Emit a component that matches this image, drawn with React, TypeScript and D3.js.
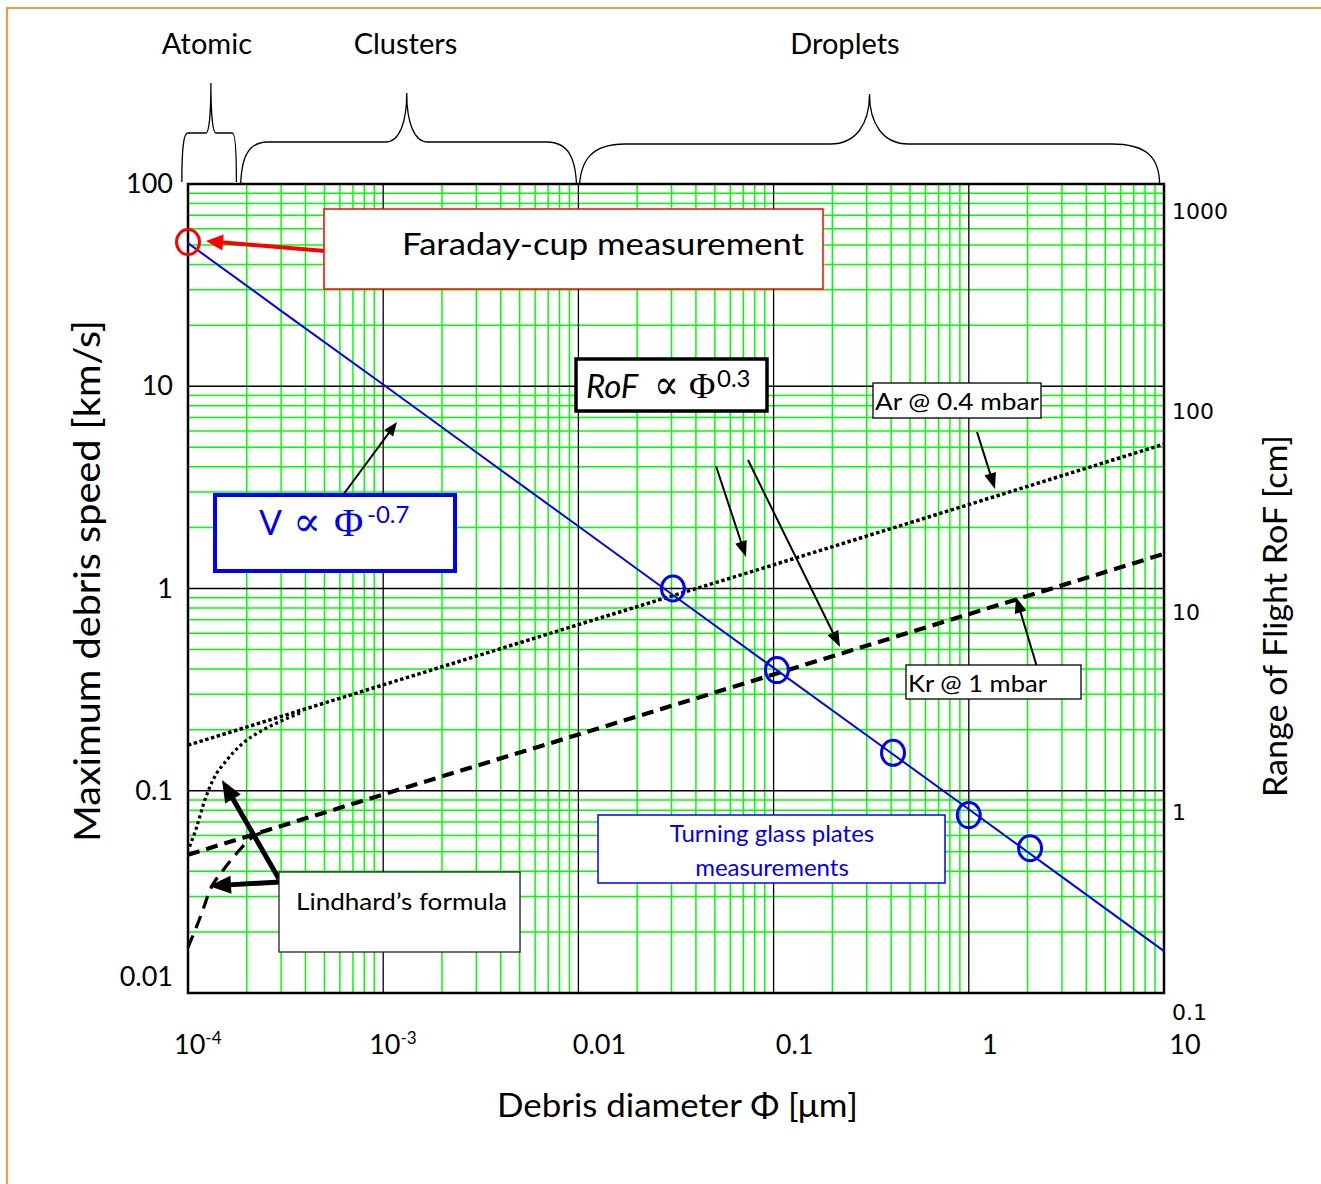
import React from 'react'
import * as d3 from 'd3'

// Debris speed / range-of-flight vs debris diameter (log-log, two y axes).
// Values.

// blue curve: max debris speed [km/s] vs diameter [µm]
const diam = [1e-4, 3e-4, 1e-3, 3e-3, 0.01, 0.03, 0.1, 0.3, 1, 3, 10]
const speed = [51, 23.6, 10.2, 4.72, 2.03, 0.94, 0.405, 0.188, 0.081, 0.0375, 0.0161]

// range of flight [cm] (right axis)
const rofDiam = [1e-4, 1e-3, 0.01, 0.1, 1, 10]
const rofAr = [2.15, 4.3, 8.6, 17.1, 34.2, 68.5]
const rofKr = [0.61, 1.22, 2.43, 4.85, 9.7, 19.4]

// Lindhard's formula near the smallest diameters
const lindArDiam = [1.02e-4, 1.108e-4, 1.222e-4, 1.343e-4, 1.579e-4, 1.913e-4, 2.42e-4, 2.96e-4, 3.88e-4]
const lindAr = [0.67, 0.84, 1.15, 1.44, 1.81, 2.2, 2.56, 2.82, 3.15]
const lindKrDiam = [1.0e-4, 1.175e-4, 1.296e-4, 1.517e-4, 1.776e-4, 2.153e-4, 2.53e-4]
const lindKr = [0.21, 0.311, 0.406, 0.512, 0.62, 0.75, 0.8]

// measurements
const faradayDiam = [1e-4]
const faradaySpeed = [51.6]
const glassDiam = [0.0305, 0.104, 0.409, 1.0, 2.06]
const glassSpeed = [1.0, 0.395, 0.154, 0.0758, 0.052]

// axes
const leftTicks = [100, 10, 1, 0.1, 0.01]
const leftLabels = ['100', '10', '1', '0.1', '0.01']
const rightTicks = [1000, 100, 10, 1, 0.1]
const rightLabels = ['1000', '100', '10', '1', '0.1']
const xTicks = [1e-4, 1e-3, 0.01, 0.1, 1, 10]
const xLabels = ['10', '10', '0.01', '0.1', '1', '10']
const xExps = ['-4', '-3', '', '', '', '']

// size regions above the plot (µm): from, apex, to
const regionNames = ['Atomic', 'Clusters', 'Droplets']
const regionFrom = [0.93e-4, 1.86e-4, 0.0101]
const regionApex = [1.31e-4, 1.32e-3, 0.31]
const regionTo = [1.77e-4, 0.0098, 9.5]
const regionLabelAt = [1.25e-4, 1.3e-3, 0.232]

const LATO = 'Lato, "Open Sans", sans-serif'
const SERIF = '"Liberation Serif", "DejaVu Serif", serif'

const isDecade = (t: number) => Math.abs(Math.log10(t) - Math.round(Math.log10(t))) < 1e-6

function Arrow({ x1, y1, x2, y2, w, hl, hw, color }: any) {
  const a = Math.atan2(y2 - y1, x2 - x1)
  const bx = x2 - hl * Math.cos(a)
  const by = y2 - hl * Math.sin(a)
  const px = (-Math.sin(a) * hw) / 2
  const py = (Math.cos(a) * hw) / 2
  return (
    <g>
      <line x1={x1} y1={y1} x2={bx + Math.cos(a) * 2} y2={by + Math.sin(a) * 2} stroke={color} strokeWidth={w} />
      <polygon points={`${x2},${y2} ${bx + px},${by + py} ${bx - px},${by - py}`} fill={color} />
    </g>
  )
}

// curly brace: ends at yB0/yB1, flat at yF, apex at yT
function bracePath(x0: number, xm: number, x1: number, yB0: number, yB1: number, yF: number, yT: number, r0: number, rm: number, r1: number) {
  return (
    `M${x0},${yB0} C${x0},${yF + (yB0 - yF) * 0.3} ${x0 + r0 * 0.3},${yF} ${x0 + r0},${yF} ` +
    `L${xm - rm},${yF} C${xm - rm * 0.35},${yF} ${xm},${yF - (yF - yT) * 0.4} ${xm},${yT} ` +
    `C${xm},${yF - (yF - yT) * 0.4} ${xm + rm * 0.35},${yF} ${xm + rm},${yF} ` +
    `L${x1 - r1},${yF} C${x1 - r1 * 0.3},${yF} ${x1},${yF + (yB1 - yF) * 0.3} ${x1},${yB1}`
  )
}

export default function App() {
  const W = 1321
  const H = 1184
  const left = 188
  const right = 1164
  const top = 184
  const bottom = 993

  const x = d3.scaleLog().domain([1e-4, 10]).range([left, right])
  const yL = d3.scaleLog().domain([0.01, 100]).range([bottom, top])
  const yR = d3.scaleLog().domain([0.1, 1000]).range([1012, 211])

  const xAll = x.ticks()
  const yAll = yL.ticks()
  const xMinor = xAll.filter((t) => !isDecade(t))
  const yMinor = yAll.filter((t) => !isDecade(t))
  const xMajor = xAll.filter((t) => isDecade(t) && t > 1e-4 && t < 10)
  const yMajor = yAll.filter((t) => isDecade(t) && t > 0.01 && t < 100)

  const lineL = (xs: number[], ys: number[], curve: any = d3.curveLinear) =>
    d3.line<number>().x((i) => x(xs[i])).y((i) => yL(ys[i])).curve(curve)(d3.range(xs.length)) || ''
  const lineR = (xs: number[], ys: number[], curve: any = d3.curveLinear) =>
    d3.line<number>().x((i) => x(xs[i])).y((i) => yR(ys[i])).curve(curve)(d3.range(xs.length)) || ''

  const braceTops = [83, 93, 94]
  const braceFlat = [133, 142, 144]
  const braceBottomL = [182, 190, 192]
  const braceBottomR = [182, 192, 185]
  const braceR0 = [6, 27, 46]
  const braceRm = [5, 21, 39]
  const braceR1 = [4, 30, 48]

  return (
    <svg width={W} height={H} style={{ position: 'absolute', left: 0, top: 0, background: '#fff' }}>
      <rect x={0} y={0} width={W} height={H} fill="#fff" />
      {/* slide frame */}
      <rect x={7} y={8} width={W + 20} height={H + 20} fill="none" stroke="#f79646" strokeWidth={2} />

      {/* region braces */}
      {regionNames.map((name, i) => (
        <g key={name}>
          <text x={x(regionLabelAt[i])} y={54} textAnchor="middle" fontFamily={LATO} fontSize={29}>
            {name}
          </text>
          <path
            d={bracePath(
              x(regionFrom[i]),
              x(regionApex[i]),
              x(regionTo[i]),
              braceBottomL[i],
              braceBottomR[i],
              braceFlat[i],
              braceTops[i],
              braceR0[i],
              braceRm[i],
              braceR1[i]
            )}
            fill="none"
            stroke="#000"
            strokeWidth={1.3}
          />
        </g>
      ))}

      {/* grid */}
      <rect x={left} y={top} width={right - left} height={bottom - top} fill="#fff" />
      {xMinor.map((t) => (
        <line key={'xm' + t} x1={x(t)} x2={x(t)} y1={top} y2={bottom} stroke="#00ff00" strokeWidth={1.5} />
      ))}
      {yMinor.map((t) => (
        <line key={'ym' + t} x1={left} x2={right} y1={yL(t)} y2={yL(t)} stroke="#00ff00" strokeWidth={1.5} />
      ))}
      {xMajor.map((t) => (
        <line key={'xM' + t} x1={x(t)} x2={x(t)} y1={top} y2={bottom} stroke="#000" strokeWidth={1.3} />
      ))}
      {yMajor.map((t) => (
        <line key={'yM' + t} x1={left} x2={right} y1={yL(t)} y2={yL(t)} stroke="#000" strokeWidth={1.3} />
      ))}
      <rect x={left} y={top} width={right - left} height={bottom - top} fill="none" stroke="#000" strokeWidth={2.5} />

      {/* left ticks */}
      {leftTicks.map((t, i) => (
        <text key={'l' + t} x={173} y={Math.min(yL(t), bottom - 16) + 9} textAnchor="end" fontFamily={LATO} fontSize={27}>
          {leftLabels[i]}
        </text>
      ))}
      {/* right ticks */}
      {rightTicks.map((t, i) => (
        <text key={'r' + t} x={1172} y={yR(t) + 8} fontFamily='"DejaVu Sans", Verdana, sans-serif' fontSize={22}>
          {rightLabels[i]}
        </text>
      ))}
      {/* x ticks */}
      {xTicks.map((t, i) =>
        xExps[i] ? (
          <text key={'x' + t} x={x(t) - 14} y={1054} fontFamily={LATO} fontSize={27}>
            {xLabels[i]}
            <tspan dy={-10} fontSize={17}>
              {xExps[i]}
            </tspan>
          </text>
        ) : (
          <text key={'x' + t} x={x(t) + 21} y={1054} textAnchor="middle" fontFamily={LATO} fontSize={27}>
            {xLabels[i]}
          </text>
        )
      )}

      {/* axis titles */}
      <text x={497} y={1117} fontFamily={LATO} fontSize={33} textLength={361} lengthAdjust="spacingAndGlyphs">
        Debris diameter Φ [μm]
      </text>
      <text transform="translate(100,842) rotate(-90)" fontFamily={LATO} fontSize={37} textLength={522} lengthAdjust="spacingAndGlyphs">
        Maximum debris speed [km/s]
      </text>
      <text transform="translate(1287,797) rotate(-90)" fontFamily={LATO} fontSize={32} textLength={362} lengthAdjust="spacingAndGlyphs">
        Range of Flight RoF [cm]
      </text>

      {/* range of flight curves */}
      <path d={lineR(rofDiam, rofAr)} fill="none" stroke="#000" strokeWidth={3.5} strokeDasharray="3.5,2.5" />
      <path d={lineR(lindArDiam, lindAr, d3.curveMonotoneX)} fill="none" stroke="#000" strokeWidth={3.2} strokeDasharray="3,3" />
      <path d={lineR(rofDiam, rofKr)} fill="none" stroke="#000" strokeWidth={4.2} strokeDasharray="12,7" />
      <path d={lineR(lindKrDiam, lindKr, d3.curveMonotoneX)} fill="none" stroke="#000" strokeWidth={3.2} strokeDasharray="13,8" />

      {/* speed curve */}
      <path d={lineL(diam, speed)} fill="none" stroke="#0000ff" strokeWidth={2} />
      {glassDiam.map((d, i) => (
        <ellipse key={'g' + d} cx={x(d)} cy={yL(glassSpeed[i])} rx={11.5} ry={12.5} fill="none" stroke="#0000ff" strokeWidth={3} />
      ))}
      {faradayDiam.map((d, i) => (
        <ellipse key={'f' + d} cx={x(d)} cy={yL(faradaySpeed[i])} rx={11.5} ry={12.5} fill="none" stroke="#ff0000" strokeWidth={3} />
      ))}

      {/* Faraday-cup annotation */}
      <Arrow x1={325} y1={251} x2={206} y2={241} w={4} hl={17} hw={16} color="#ff0000" />
      <rect x={324} y={209} width={499} height={80} fill="#fff" stroke="#ff0000" strokeWidth={1.5} />
      <text x={402} y={255} fontFamily={LATO} fontSize={31} textLength={402} lengthAdjust="spacingAndGlyphs">
        Faraday-cup measurement
      </text>

      {/* RoF power law */}
      <rect x={576} y={359} width={191} height={52} fill="#fff" stroke="#000" strokeWidth={3.5} />
      <text x={586} y={398} fontFamily={LATO} fontSize={33} fontStyle="italic">
        RoF
      </text>
      <text x={654} y={399} fontFamily={SERIF} fontSize={42} textLength={25} lengthAdjust="spacingAndGlyphs">
        ∝
      </text>
      <text x={689} y={398} fontFamily={SERIF} fontSize={36}>
        Φ
      </text>
      <text x={717} y={387} fontFamily={LATO} fontSize={24}>
        0.3
      </text>

      {/* speed power law */}
      <Arrow x1={343} y1={495} x2={397} y2={422} w={2} hl={14} hw={11} color="#000" />
      <rect x={215} y={495} width={240} height={76} fill="#fff" stroke="#0000ff" strokeWidth={4} />
      <text x={259} y={535} fontFamily={LATO} fontSize={34} fill="#0000ff">
        V
      </text>
      <text x={293} y={536} fontFamily={SERIF} fontSize={42} fill="#0000ff" textLength={28} lengthAdjust="spacingAndGlyphs">
        ∝
      </text>
      <text x={334} y={536} fontFamily={SERIF} fontSize={40} fill="#0000ff">
        Φ
      </text>
      <text x={367} y={523} fontFamily={LATO} fontSize={24} fill="#0000ff">
        -0.7
      </text>

      {/* gas labels */}
      <rect x={873} y={383} width={168} height={35} fill="#fff" stroke="#000" strokeWidth={1.3} />
      <text x={875} y={410} fontFamily={LATO} fontSize={24} textLength={164} lengthAdjust="spacingAndGlyphs">
        Ar @ 0.4 mbar
      </text>
      <Arrow x1={977} y1={432} x2={995} y2={489} w={2} hl={16} hw={12} color="#000" />
      <Arrow x1={716} y1={466} x2={746} y2={557} w={2} hl={16} hw={12} color="#000" />
      <Arrow x1={748} y1={460} x2={840} y2={647} w={2} hl={16} hw={12} color="#000" />

      <Arrow x1={1037} y1={667} x2={1016} y2={597} w={2} hl={16} hw={12} color="#000" />
      <rect x={906} y={665} width={175} height={34} fill="#fff" stroke="#000" strokeWidth={1.3} />
      <text x={908} y={692} fontFamily={LATO} fontSize={24} textLength={139} lengthAdjust="spacingAndGlyphs">
        Kr @ 1 mbar
      </text>

      {/* glass plates */}
      <rect x={598} y={815} width={347} height={68} fill="#fff" stroke="#0000ff" strokeWidth={1.5} />
      <text x={772} y={842} textAnchor="middle" fontFamily={LATO} fontSize={24} fill="#0000ff">
        Turning glass plates
      </text>
      <text x={772} y={876} textAnchor="middle" fontFamily={LATO} fontSize={24} fill="#0000ff">
        measurements
      </text>

      {/* Lindhard */}
      <Arrow x1={279} y1={879} x2={222} y2={780} w={5} hl={22} hw={18} color="#000" />
      <Arrow x1={280} y1={882} x2={209} y2={886} w={5} hl={22} hw={18} color="#000" />
      <rect x={279} y={872} width={241} height={80} fill="#fff" stroke="#222" strokeWidth={1.3} />
      <text x={296} y={910} fontFamily={LATO} fontSize={24} textLength={211} lengthAdjust="spacingAndGlyphs">
        Lindhard’s formula
      </text>
    </svg>
  )
}
